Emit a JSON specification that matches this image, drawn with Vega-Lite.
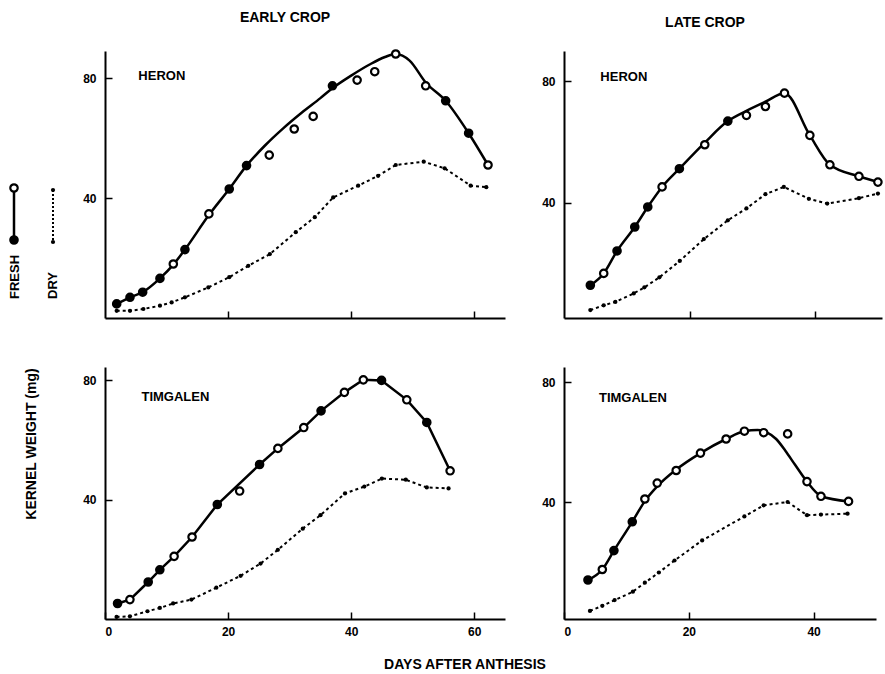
{
  "$schema": "https://vega.github.io/schema/vega-lite/v6.json",
  "padding": {"top": 10, "left": 0, "right": 0, "bottom": 0},
  "autosize": {"type": "pad"},
  "spacing": 12,
  "config": {
    "view": {"stroke": null},
    "font": "Liberation Sans",
    "axis": {"domainColor": "black", "domainWidth": 2, "tickColor": "black", "tickWidth": 1.5, "tickSize": -7, "labelFont": "Liberation Sans", "labelFontWeight": "bold", "labelFontSize": 12, "labelColor": "black", "grid": false, "title": null},
    "axisY": {"labelPadding": 16},
    "axisX": {"labelPadding": 14},
    "title": {"font": "Liberation Sans", "fontSize": 14, "fontWeight": "bold", "color": "black", "offset": 21}
  },
  "title": {"text": "DAYS AFTER ANTHESIS", "orient": "bottom", "anchor": "middle", "offset": 21, "dx": 22, "font": "Liberation Sans", "fontSize": 14, "fontWeight": "bold", "color": "black"},
  "datasets": {
    "pts": [
      {"panel": "TL", "series": "fresh", "day": 1.9, "weight": 4.7, "style": "filled"},
      {"panel": "TL", "series": "fresh", "day": 4.06, "weight": 6.9, "style": "filled"},
      {"panel": "TL", "series": "fresh", "day": 6.12, "weight": 8.6, "style": "filled"},
      {"panel": "TL", "series": "fresh", "day": 8.93, "weight": 13.2, "style": "filled"},
      {"panel": "TL", "series": "fresh", "day": 11.1, "weight": 18.0, "style": "open"},
      {"panel": "TL", "series": "fresh", "day": 12.99, "weight": 22.8, "style": "filled"},
      {"panel": "TL", "series": "fresh", "day": 16.88, "weight": 34.7, "style": "open"},
      {"panel": "TL", "series": "fresh", "day": 20.19, "weight": 43.0, "style": "filled"},
      {"panel": "TL", "series": "fresh", "day": 23.0, "weight": 50.8, "style": "filled"},
      {"panel": "TL", "series": "fresh", "day": 26.69, "weight": 54.3, "style": "open"},
      {"panel": "TL", "series": "fresh", "day": 30.75, "weight": 63.0, "style": "open"},
      {"panel": "TL", "series": "fresh", "day": 33.83, "weight": 67.2, "style": "open"},
      {"panel": "TL", "series": "fresh", "day": 36.96, "weight": 77.4, "style": "filled"},
      {"panel": "TL", "series": "fresh", "day": 40.97, "weight": 79.3, "style": "open"},
      {"panel": "TL", "series": "fresh", "day": 43.83, "weight": 82.1, "style": "open"},
      {"panel": "TL", "series": "fresh", "day": 47.24, "weight": 88.0, "style": "open"},
      {"panel": "TL", "series": "fresh", "day": 52.11, "weight": 77.4, "style": "open"},
      {"panel": "TL", "series": "fresh", "day": 55.36, "weight": 72.4, "style": "filled"},
      {"panel": "TL", "series": "fresh", "day": 59.09, "weight": 61.6, "style": "filled"},
      {"panel": "TL", "series": "fresh", "day": 62.24, "weight": 51.0, "style": "open"},
      {"panel": "TL", "series": "dry", "day": 1.9, "weight": 2.4, "style": "dot"},
      {"panel": "TL", "series": "dry", "day": 4.06, "weight": 2.4, "style": "dot"},
      {"panel": "TL", "series": "dry", "day": 6.23, "weight": 3.0, "style": "dot"},
      {"panel": "TL", "series": "dry", "day": 8.93, "weight": 4.1, "style": "dot"},
      {"panel": "TL", "series": "dry", "day": 10.83, "weight": 5.2, "style": "dot"},
      {"panel": "TL", "series": "dry", "day": 12.99, "weight": 6.9, "style": "dot"},
      {"panel": "TL", "series": "dry", "day": 16.79, "weight": 10.2, "style": "dot"},
      {"panel": "TL", "series": "dry", "day": 20.19, "weight": 13.6, "style": "dot"},
      {"panel": "TL", "series": "dry", "day": 23.28, "weight": 17.4, "style": "dot"},
      {"panel": "TL", "series": "dry", "day": 26.79, "weight": 21.3, "style": "dot"},
      {"panel": "TL", "series": "dry", "day": 31.0, "weight": 28.6, "style": "dot"},
      {"panel": "TL", "series": "dry", "day": 34.09, "weight": 33.6, "style": "dot"},
      {"panel": "TL", "series": "dry", "day": 37.08, "weight": 40.2, "style": "dot"},
      {"panel": "TL", "series": "dry", "day": 41.14, "weight": 44.1, "style": "dot"},
      {"panel": "TL", "series": "dry", "day": 44.38, "weight": 47.4, "style": "dot"},
      {"panel": "TL", "series": "dry", "day": 47.24, "weight": 51.0, "style": "dot"},
      {"panel": "TL", "series": "dry", "day": 51.79, "weight": 52.1, "style": "dot"},
      {"panel": "TL", "series": "dry", "day": 55.19, "weight": 49.9, "style": "dot"},
      {"panel": "TL", "series": "dry", "day": 59.42, "weight": 44.1, "style": "dot"},
      {"panel": "TL", "series": "dry", "day": 61.96, "weight": 43.6, "style": "dot"},

      {"panel": "TR", "series": "fresh", "day": 4.19, "weight": 12.8, "style": "filled"},
      {"panel": "TR", "series": "fresh", "day": 6.32, "weight": 16.7, "style": "open"},
      {"panel": "TR", "series": "fresh", "day": 8.44, "weight": 24.1, "style": "filled"},
      {"panel": "TR", "series": "fresh", "day": 11.26, "weight": 32.0, "style": "filled"},
      {"panel": "TR", "series": "fresh", "day": 13.33, "weight": 38.6, "style": "filled"},
      {"panel": "TR", "series": "fresh", "day": 15.61, "weight": 45.2, "style": "open"},
      {"panel": "TR", "series": "fresh", "day": 18.36, "weight": 51.2, "style": "filled"},
      {"panel": "TR", "series": "fresh", "day": 22.4, "weight": 59.1, "style": "open"},
      {"panel": "TR", "series": "fresh", "day": 26.07, "weight": 66.9, "style": "filled"},
      {"panel": "TR", "series": "fresh", "day": 29.03, "weight": 68.8, "style": "open"},
      {"panel": "TR", "series": "fresh", "day": 32.05, "weight": 71.7, "style": "open"},
      {"panel": "TR", "series": "fresh", "day": 35.08, "weight": 76.1, "style": "open"},
      {"panel": "TR", "series": "fresh", "day": 39.12, "weight": 62.2, "style": "open"},
      {"panel": "TR", "series": "fresh", "day": 42.31, "weight": 52.5, "style": "open"},
      {"panel": "TR", "series": "fresh", "day": 46.93, "weight": 48.7, "style": "open"},
      {"panel": "TR", "series": "fresh", "day": 49.95, "weight": 46.8, "style": "open"},
      {"panel": "TR", "series": "dry", "day": 4.19, "weight": 4.6, "style": "dot"},
      {"panel": "TR", "series": "dry", "day": 6.32, "weight": 6.2, "style": "dot"},
      {"panel": "TR", "series": "dry", "day": 8.17, "weight": 7.3, "style": "dot"},
      {"panel": "TR", "series": "dry", "day": 11.1, "weight": 10.1, "style": "dot"},
      {"panel": "TR", "series": "dry", "day": 12.79, "weight": 12.1, "style": "dot"},
      {"panel": "TR", "series": "dry", "day": 15.18, "weight": 15.4, "style": "dot"},
      {"panel": "TR", "series": "dry", "day": 18.42, "weight": 20.8, "style": "dot"},
      {"panel": "TR", "series": "dry", "day": 22.25, "weight": 28.0, "style": "dot"},
      {"panel": "TR", "series": "dry", "day": 26.07, "weight": 34.2, "style": "dot"},
      {"panel": "TR", "series": "dry", "day": 29.03, "weight": 38.1, "style": "dot"},
      {"panel": "TR", "series": "dry", "day": 32.05, "weight": 42.8, "style": "dot"},
      {"panel": "TR", "series": "dry", "day": 34.98, "weight": 45.2, "style": "dot"},
      {"panel": "TR", "series": "dry", "day": 38.96, "weight": 41.3, "style": "dot"},
      {"panel": "TR", "series": "dry", "day": 41.88, "weight": 39.7, "style": "dot"},
      {"panel": "TR", "series": "dry", "day": 46.93, "weight": 41.5, "style": "dot"},
      {"panel": "TR", "series": "dry", "day": 49.95, "weight": 43.0, "style": "dot"},

      {"panel": "BL", "series": "fresh", "day": 2.04, "weight": 5.2, "style": "filled"},
      {"panel": "BL", "series": "fresh", "day": 4.05, "weight": 6.5, "style": "open"},
      {"panel": "BL", "series": "fresh", "day": 7.02, "weight": 12.4, "style": "filled"},
      {"panel": "BL", "series": "fresh", "day": 8.91, "weight": 16.5, "style": "filled"},
      {"panel": "BL", "series": "fresh", "day": 11.23, "weight": 21.0, "style": "open"},
      {"panel": "BL", "series": "fresh", "day": 14.15, "weight": 27.5, "style": "open"},
      {"panel": "BL", "series": "fresh", "day": 18.25, "weight": 38.4, "style": "filled"},
      {"panel": "BL", "series": "fresh", "day": 21.88, "weight": 42.9, "style": "open"},
      {"panel": "BL", "series": "fresh", "day": 25.12, "weight": 51.8, "style": "filled"},
      {"panel": "BL", "series": "fresh", "day": 28.09, "weight": 57.2, "style": "open"},
      {"panel": "BL", "series": "fresh", "day": 32.3, "weight": 64.2, "style": "open"},
      {"panel": "BL", "series": "fresh", "day": 35.11, "weight": 69.8, "style": "filled"},
      {"panel": "BL", "series": "fresh", "day": 38.9, "weight": 76.0, "style": "open"},
      {"panel": "BL", "series": "fresh", "day": 41.98, "weight": 80.2, "style": "open"},
      {"panel": "BL", "series": "fresh", "day": 44.94, "weight": 80.0, "style": "filled"},
      {"panel": "BL", "series": "fresh", "day": 49.04, "weight": 73.5, "style": "open"},
      {"panel": "BL", "series": "fresh", "day": 52.29, "weight": 65.9, "style": "filled"},
      {"panel": "BL", "series": "fresh", "day": 56.08, "weight": 49.7, "style": "open"},
      {"panel": "BL", "series": "dry", "day": 1.88, "weight": 0.7, "style": "dot"},
      {"panel": "BL", "series": "dry", "day": 4.05, "weight": 0.9, "style": "dot"},
      {"panel": "BL", "series": "dry", "day": 6.9, "weight": 2.6, "style": "dot"},
      {"panel": "BL", "series": "dry", "day": 8.91, "weight": 3.7, "style": "dot"},
      {"panel": "BL", "series": "dry", "day": 11.07, "weight": 5.2, "style": "dot"},
      {"panel": "BL", "series": "dry", "day": 14.04, "weight": 6.5, "style": "dot"},
      {"panel": "BL", "series": "dry", "day": 18.09, "weight": 10.5, "style": "dot"},
      {"panel": "BL", "series": "dry", "day": 22.04, "weight": 14.5, "style": "dot"},
      {"panel": "BL", "series": "dry", "day": 25.28, "weight": 18.6, "style": "dot"},
      {"panel": "BL", "series": "dry", "day": 28.09, "weight": 23.2, "style": "dot"},
      {"panel": "BL", "series": "dry", "day": 32.14, "weight": 30.3, "style": "dot"},
      {"panel": "BL", "series": "dry", "day": 35.01, "weight": 34.8, "style": "dot"},
      {"panel": "BL", "series": "dry", "day": 39.0, "weight": 42.1, "style": "dot"},
      {"panel": "BL", "series": "dry", "day": 42.14, "weight": 44.4, "style": "dot"},
      {"panel": "BL", "series": "dry", "day": 44.99, "weight": 47.1, "style": "dot"},
      {"panel": "BL", "series": "dry", "day": 48.88, "weight": 46.7, "style": "dot"},
      {"panel": "BL", "series": "dry", "day": 52.29, "weight": 44.1, "style": "dot"},
      {"panel": "BL", "series": "dry", "day": 55.83, "weight": 43.8, "style": "dot"},

      {"panel": "BR", "series": "fresh", "day": 3.84, "weight": 14.0, "style": "filled"},
      {"panel": "BR", "series": "fresh", "day": 6.14, "weight": 17.5, "style": "open"},
      {"panel": "BR", "series": "fresh", "day": 8.0, "weight": 23.8, "style": "filled"},
      {"panel": "BR", "series": "fresh", "day": 10.94, "weight": 33.4, "style": "filled"},
      {"panel": "BR", "series": "fresh", "day": 12.96, "weight": 41.0, "style": "open"},
      {"panel": "BR", "series": "fresh", "day": 14.94, "weight": 46.3, "style": "open"},
      {"panel": "BR", "series": "fresh", "day": 17.98, "weight": 50.5, "style": "open"},
      {"panel": "BR", "series": "fresh", "day": 21.87, "weight": 56.3, "style": "open"},
      {"panel": "BR", "series": "fresh", "day": 25.98, "weight": 61.0, "style": "open"},
      {"panel": "BR", "series": "fresh", "day": 28.91, "weight": 63.6, "style": "open"},
      {"panel": "BR", "series": "fresh", "day": 32.0, "weight": 63.1, "style": "open"},
      {"panel": "BR", "series": "fresh", "day": 35.84, "weight": 62.7, "style": "open"},
      {"panel": "BR", "series": "fresh", "day": 38.94, "weight": 46.8, "style": "open"},
      {"panel": "BR", "series": "fresh", "day": 41.18, "weight": 41.9, "style": "open"},
      {"panel": "BR", "series": "fresh", "day": 45.6, "weight": 40.2, "style": "open"},
      {"panel": "BR", "series": "dry", "day": 4.16, "weight": 3.7, "style": "dot"},
      {"panel": "BR", "series": "dry", "day": 6.14, "weight": 5.4, "style": "dot"},
      {"panel": "BR", "series": "dry", "day": 8.11, "weight": 7.3, "style": "dot"},
      {"panel": "BR", "series": "dry", "day": 11.04, "weight": 10.1, "style": "dot"},
      {"panel": "BR", "series": "dry", "day": 12.96, "weight": 13.1, "style": "dot"},
      {"panel": "BR", "series": "dry", "day": 15.2, "weight": 16.5, "style": "dot"},
      {"panel": "BR", "series": "dry", "day": 17.71, "weight": 20.5, "style": "dot"},
      {"panel": "BR", "series": "dry", "day": 22.14, "weight": 27.2, "style": "dot"},
      {"panel": "BR", "series": "dry", "day": 28.91, "weight": 35.2, "style": "dot"},
      {"panel": "BR", "series": "dry", "day": 32.0, "weight": 38.9, "style": "dot"},
      {"panel": "BR", "series": "dry", "day": 35.84, "weight": 40.0, "style": "dot"},
      {"panel": "BR", "series": "dry", "day": 38.94, "weight": 35.6, "style": "dot"},
      {"panel": "BR", "series": "dry", "day": 41.18, "weight": 35.8, "style": "dot"},
      {"panel": "BR", "series": "dry", "day": 45.44, "weight": 36.1, "style": "dot"}
    ],
    "curve": [
      {"panel": "TL", "day": 1.9, "weight": 4.7}, {"panel": "TL", "day": 4.06, "weight": 6.9}, {"panel": "TL", "day": 6.12, "weight": 8.6},
      {"panel": "TL", "day": 8.93, "weight": 13.2}, {"panel": "TL", "day": 11.1, "weight": 17.8}, {"panel": "TL", "day": 12.99, "weight": 22.8},
      {"panel": "TL", "day": 16.88, "weight": 34.3}, {"panel": "TL", "day": 20.19, "weight": 43.0}, {"panel": "TL", "day": 23.0, "weight": 50.8},
      {"panel": "TL", "day": 26.0, "weight": 57.5}, {"panel": "TL", "day": 29.0, "weight": 63.3}, {"panel": "TL", "day": 32.0, "weight": 68.5},
      {"panel": "TL", "day": 35.0, "weight": 73.3}, {"panel": "TL", "day": 36.96, "weight": 76.6}, {"panel": "TL", "day": 40.0, "weight": 80.8},
      {"panel": "TL", "day": 43.0, "weight": 84.5}, {"panel": "TL", "day": 45.5, "weight": 87.0}, {"panel": "TL", "day": 47.24, "weight": 88.0},
      {"panel": "TL", "day": 49.5, "weight": 85.8}, {"panel": "TL", "day": 52.11, "weight": 78.5}, {"panel": "TL", "day": 55.36, "weight": 72.4},
      {"panel": "TL", "day": 59.09, "weight": 61.6}, {"panel": "TL", "day": 62.24, "weight": 51.0},

      {"panel": "TR", "day": 4.19, "weight": 12.8}, {"panel": "TR", "day": 6.32, "weight": 16.7}, {"panel": "TR", "day": 8.44, "weight": 24.1},
      {"panel": "TR", "day": 11.26, "weight": 32.0}, {"panel": "TR", "day": 13.33, "weight": 38.6}, {"panel": "TR", "day": 15.61, "weight": 45.2},
      {"panel": "TR", "day": 18.36, "weight": 51.2}, {"panel": "TR", "day": 22.4, "weight": 59.8}, {"panel": "TR", "day": 26.07, "weight": 66.9},
      {"panel": "TR", "day": 29.03, "weight": 70.3}, {"panel": "TR", "day": 32.05, "weight": 73.3}, {"panel": "TR", "day": 35.08, "weight": 76.1},
      {"panel": "TR", "day": 39.12, "weight": 62.2}, {"panel": "TR", "day": 42.31, "weight": 52.5}, {"panel": "TR", "day": 46.93, "weight": 48.7},
      {"panel": "TR", "day": 49.95, "weight": 46.8},

      {"panel": "BL", "day": 2.04, "weight": 5.2}, {"panel": "BL", "day": 4.05, "weight": 6.5}, {"panel": "BL", "day": 7.02, "weight": 12.4},
      {"panel": "BL", "day": 8.91, "weight": 16.5}, {"panel": "BL", "day": 11.23, "weight": 21.0}, {"panel": "BL", "day": 14.15, "weight": 27.5},
      {"panel": "BL", "day": 18.25, "weight": 38.4}, {"panel": "BL", "day": 25.12, "weight": 51.8}, {"panel": "BL", "day": 28.09, "weight": 57.2},
      {"panel": "BL", "day": 32.3, "weight": 64.2}, {"panel": "BL", "day": 35.11, "weight": 69.8}, {"panel": "BL", "day": 38.9, "weight": 76.0},
      {"panel": "BL", "day": 41.98, "weight": 80.2}, {"panel": "BL", "day": 44.94, "weight": 80.0}, {"panel": "BL", "day": 49.04, "weight": 73.5},
      {"panel": "BL", "day": 52.29, "weight": 65.9}, {"panel": "BL", "day": 56.08, "weight": 49.7},

      {"panel": "BR", "day": 3.84, "weight": 14.0}, {"panel": "BR", "day": 6.14, "weight": 17.5}, {"panel": "BR", "day": 8.0, "weight": 23.8},
      {"panel": "BR", "day": 10.94, "weight": 33.4}, {"panel": "BR", "day": 12.96, "weight": 40.3}, {"panel": "BR", "day": 14.94, "weight": 45.2},
      {"panel": "BR", "day": 17.98, "weight": 50.8}, {"panel": "BR", "day": 21.87, "weight": 56.3}, {"panel": "BR", "day": 25.98, "weight": 61.0},
      {"panel": "BR", "day": 28.91, "weight": 63.6}, {"panel": "BR", "day": 31.0, "weight": 64.0}, {"panel": "BR", "day": 32.5, "weight": 63.2},
      {"panel": "BR", "day": 34.0, "weight": 61.0}, {"panel": "BR", "day": 35.5, "weight": 57.0}, {"panel": "BR", "day": 37.0, "weight": 52.5},
      {"panel": "BR", "day": 38.94, "weight": 46.8}, {"panel": "BR", "day": 41.18, "weight": 42.0}, {"panel": "BR", "day": 45.6, "weight": 40.2}
    ],
    "labels": [
      {"panel": "TL", "day": 5.42, "weight": 79.4, "name": "HERON"},
      {"panel": "TR", "day": 5.78, "weight": 80.0, "name": "HERON"},
      {"panel": "BL", "day": 5.93, "weight": 73.0, "name": "TIMGALEN"},
      {"panel": "BR", "day": 5.6, "weight": 73.4, "name": "TIMGALEN"}
    ],
    "legendGlyph": [
      {"item": "fresh", "x": 14, "y": 137, "style": "open"},
      {"item": "fresh", "x": 14, "y": 189, "style": "filled"},
      {"item": "dry", "x": 53, "y": 139, "style": "dot"},
      {"item": "dry", "x": 53, "y": 191, "style": "dot"}
    ],
    "legendText": [
      {"label": "FRESH", "x": 15, "y": 248},
      {"label": "DRY", "x": 53, "y": 248}
    ],
    "axisTitle": [
      {"label": "KERNEL WEIGHT (mg)", "x": 32, "y": 393}
    ]
  },
  "hconcat": [
    {
      "width": 70, "height": 568,
      "layer": [
        {"data": {"name": "legendGlyph"}, "transform": [{"filter": "datum.item === 'fresh'"}],
         "mark": {"type": "line", "color": "black", "strokeWidth": 2.5},
         "encoding": {"x": {"field": "x", "type": "quantitative", "scale": {"domain": [0, 70], "nice": false, "zero": false}, "axis": null},
                      "y": {"field": "y", "type": "quantitative", "scale": {"domain": [0, 568], "nice": false, "zero": false, "reverse": true}, "axis": null}}},
        {"data": {"name": "legendGlyph"}, "transform": [{"filter": "datum.item === 'dry'"}],
         "mark": {"type": "line", "color": "black", "strokeWidth": 2, "strokeDash": [2, 2]},
         "encoding": {"x": {"field": "x", "type": "quantitative"}, "y": {"field": "y", "type": "quantitative"}}},
        {"data": {"name": "legendGlyph"}, "transform": [{"filter": "datum.item === 'dry'"}],
         "mark": {"type": "circle", "color": "black", "size": 18, "opacity": 1},
         "encoding": {"x": {"field": "x", "type": "quantitative"}, "y": {"field": "y", "type": "quantitative"}}},
        {"data": {"name": "legendGlyph"}, "transform": [{"filter": "datum.item === 'fresh'"}],
         "mark": {"type": "point", "shape": "circle", "filled": true, "stroke": "black", "strokeWidth": 2.2, "size": 55, "opacity": 1},
         "encoding": {"x": {"field": "x", "type": "quantitative"}, "y": {"field": "y", "type": "quantitative"},
                      "fill": {"field": "style", "type": "nominal", "scale": {"domain": ["open", "filled"], "range": ["white", "black"]}, "legend": null}}},
        {"data": {"name": "legendText"},
         "mark": {"type": "text", "angle": 270, "align": "left", "baseline": "middle", "fontSize": 13, "fontWeight": "bold", "font": "Liberation Sans", "color": "black"},
         "encoding": {"x": {"field": "x", "type": "quantitative"}, "y": {"field": "y", "type": "quantitative"}, "text": {"field": "label"}}},
        {"data": {"name": "axisTitle"},
         "mark": {"type": "text", "angle": 270, "align": "center", "baseline": "middle", "fontSize": 14, "fontWeight": "bold", "font": "Liberation Sans", "color": "black"},
         "encoding": {"x": {"field": "x", "type": "quantitative"}, "y": {"field": "y", "type": "quantitative"}, "text": {"field": "label"}}}
      ]
    },
    {
      "columns": 2,
      "bounds": "flush",
      "spacing": {"row": 49, "column": 59},
      "concat": [
        {
          "width": 400, "height": 267,
          "title": {"text": "EARLY CROP", "dx": -20},
          "layer": [
            {"data": {"name": "curve"}, "transform": [{"filter": "datum.panel === 'TL'"}],
             "mark": {"type": "line", "interpolate": "monotone", "color": "black", "strokeWidth": 2.5},
             "encoding": {"x": {"field": "day", "type": "quantitative", "scale": {"domain": [0, 65], "nice": false, "zero": false}, "axis": {"values": [20, 40, 60], "labels": false}},
                          "y": {"field": "weight", "type": "quantitative", "scale": {"domain": [0, 89], "nice": false, "zero": false}, "axis": {"values": [40, 80]}}}},
            {"data": {"name": "pts"}, "transform": [{"filter": "datum.panel === 'TL' && datum.series === 'dry'"}],
             "mark": {"type": "line", "color": "black", "strokeWidth": 2, "strokeDash": [3, 3]},
             "encoding": {"x": {"field": "day", "type": "quantitative"}, "y": {"field": "weight", "type": "quantitative"}}},
            {"data": {"name": "pts"}, "transform": [{"filter": "datum.panel === 'TL' && datum.series === 'dry'"}],
             "mark": {"type": "circle", "color": "black", "size": 18, "opacity": 1},
             "encoding": {"x": {"field": "day", "type": "quantitative"}, "y": {"field": "weight", "type": "quantitative"}}},
            {"data": {"name": "pts"}, "transform": [{"filter": "datum.panel === 'TL' && datum.series === 'fresh'"}],
             "mark": {"type": "point", "shape": "circle", "filled": true, "stroke": "black", "strokeWidth": 2.2, "size": 55, "opacity": 1},
             "encoding": {"x": {"field": "day", "type": "quantitative"}, "y": {"field": "weight", "type": "quantitative"},
                          "fill": {"field": "style", "type": "nominal", "scale": {"domain": ["open", "filled"], "range": ["transparent", "black"]}, "legend": null}}},
            {"data": {"name": "labels"}, "transform": [{"filter": "datum.panel === 'TL'"}],
             "mark": {"type": "text", "align": "left", "baseline": "alphabetic", "fontSize": 13, "fontWeight": "bold", "font": "Liberation Sans", "color": "black"},
             "encoding": {"x": {"field": "day", "type": "quantitative"}, "y": {"field": "weight", "type": "quantitative"}, "text": {"field": "name"}}}
          ]
        },
        {
          "width": 318, "height": 267,
          "title": {"text": "LATE CROP", "dx": -18},
          "layer": [
            {"data": {"name": "curve"}, "transform": [{"filter": "datum.panel === 'TR'"}],
             "mark": {"type": "line", "interpolate": "monotone", "color": "black", "strokeWidth": 2.5},
             "encoding": {"x": {"field": "day", "type": "quantitative", "scale": {"domain": [0, 50.6], "nice": false, "zero": false}, "axis": {"values": [20, 40], "labels": false}},
                          "y": {"field": "weight", "type": "quantitative", "scale": {"domain": [2, 90], "nice": false, "zero": false}, "axis": {"values": [40, 80]}}}},
            {"data": {"name": "pts"}, "transform": [{"filter": "datum.panel === 'TR' && datum.series === 'dry'"}],
             "mark": {"type": "line", "color": "black", "strokeWidth": 2, "strokeDash": [3, 3]},
             "encoding": {"x": {"field": "day", "type": "quantitative"}, "y": {"field": "weight", "type": "quantitative"}}},
            {"data": {"name": "pts"}, "transform": [{"filter": "datum.panel === 'TR' && datum.series === 'dry'"}],
             "mark": {"type": "circle", "color": "black", "size": 18, "opacity": 1},
             "encoding": {"x": {"field": "day", "type": "quantitative"}, "y": {"field": "weight", "type": "quantitative"}}},
            {"data": {"name": "pts"}, "transform": [{"filter": "datum.panel === 'TR' && datum.series === 'fresh'"}],
             "mark": {"type": "point", "shape": "circle", "filled": true, "stroke": "black", "strokeWidth": 2.2, "size": 55, "opacity": 1},
             "encoding": {"x": {"field": "day", "type": "quantitative"}, "y": {"field": "weight", "type": "quantitative"},
                          "fill": {"field": "style", "type": "nominal", "scale": {"domain": ["open", "filled"], "range": ["transparent", "black"]}, "legend": null}}},
            {"data": {"name": "labels"}, "transform": [{"filter": "datum.panel === 'TR'"}],
             "mark": {"type": "text", "align": "left", "baseline": "alphabetic", "fontSize": 13, "fontWeight": "bold", "font": "Liberation Sans", "color": "black"},
             "encoding": {"x": {"field": "day", "type": "quantitative"}, "y": {"field": "weight", "type": "quantitative"}, "text": {"field": "name"}}}
          ]
        },
        {
          "width": 400, "height": 252,
          "layer": [
            {"data": {"name": "curve"}, "transform": [{"filter": "datum.panel === 'BL'"}],
             "mark": {"type": "line", "color": "black", "strokeWidth": 2.5},
             "encoding": {"x": {"field": "day", "type": "quantitative", "scale": {"domain": [0, 65], "nice": false, "zero": false}, "axis": {"values": [0, 20, 40, 60]}},
                          "y": {"field": "weight", "type": "quantitative", "scale": {"domain": [0, 84.5], "nice": false, "zero": false}, "axis": {"values": [40, 80]}}}},
            {"data": {"name": "pts"}, "transform": [{"filter": "datum.panel === 'BL' && datum.series === 'dry'"}],
             "mark": {"type": "line", "color": "black", "strokeWidth": 2, "strokeDash": [3, 3]},
             "encoding": {"x": {"field": "day", "type": "quantitative"}, "y": {"field": "weight", "type": "quantitative"}}},
            {"data": {"name": "pts"}, "transform": [{"filter": "datum.panel === 'BL' && datum.series === 'dry'"}],
             "mark": {"type": "circle", "color": "black", "size": 18, "opacity": 1},
             "encoding": {"x": {"field": "day", "type": "quantitative"}, "y": {"field": "weight", "type": "quantitative"}}},
            {"data": {"name": "pts"}, "transform": [{"filter": "datum.panel === 'BL' && datum.series === 'fresh'"}],
             "mark": {"type": "point", "shape": "circle", "filled": true, "stroke": "black", "strokeWidth": 2.2, "size": 55, "opacity": 1},
             "encoding": {"x": {"field": "day", "type": "quantitative"}, "y": {"field": "weight", "type": "quantitative"},
                          "fill": {"field": "style", "type": "nominal", "scale": {"domain": ["open", "filled"], "range": ["transparent", "black"]}, "legend": null}}},
            {"data": {"name": "labels"}, "transform": [{"filter": "datum.panel === 'BL'"}],
             "mark": {"type": "text", "align": "left", "baseline": "alphabetic", "fontSize": 13, "fontWeight": "bold", "font": "Liberation Sans", "color": "black"},
             "encoding": {"x": {"field": "day", "type": "quantitative"}, "y": {"field": "weight", "type": "quantitative"}, "text": {"field": "name"}}}
          ]
        },
        {
          "width": 312, "height": 252,
          "layer": [
            {"data": {"name": "curve"}, "transform": [{"filter": "datum.panel === 'BR'"}],
             "mark": {"type": "line", "interpolate": "monotone", "color": "black", "strokeWidth": 2.5},
             "encoding": {"x": {"field": "day", "type": "quantitative", "scale": {"domain": [0, 50], "nice": false, "zero": false}, "axis": {"values": [0, 20, 40]}},
                          "y": {"field": "weight", "type": "quantitative", "scale": {"domain": [1, 85], "nice": false, "zero": false}, "axis": {"values": [40, 80]}}}},
            {"data": {"name": "pts"}, "transform": [{"filter": "datum.panel === 'BR' && datum.series === 'dry'"}],
             "mark": {"type": "line", "color": "black", "strokeWidth": 2, "strokeDash": [3, 3]},
             "encoding": {"x": {"field": "day", "type": "quantitative"}, "y": {"field": "weight", "type": "quantitative"}}},
            {"data": {"name": "pts"}, "transform": [{"filter": "datum.panel === 'BR' && datum.series === 'dry'"}],
             "mark": {"type": "circle", "color": "black", "size": 18, "opacity": 1},
             "encoding": {"x": {"field": "day", "type": "quantitative"}, "y": {"field": "weight", "type": "quantitative"}}},
            {"data": {"name": "pts"}, "transform": [{"filter": "datum.panel === 'BR' && datum.series === 'fresh'"}],
             "mark": {"type": "point", "shape": "circle", "filled": true, "stroke": "black", "strokeWidth": 2.2, "size": 55, "opacity": 1},
             "encoding": {"x": {"field": "day", "type": "quantitative"}, "y": {"field": "weight", "type": "quantitative"},
                          "fill": {"field": "style", "type": "nominal", "scale": {"domain": ["open", "filled"], "range": ["transparent", "black"]}, "legend": null}}},
            {"data": {"name": "labels"}, "transform": [{"filter": "datum.panel === 'BR'"}],
             "mark": {"type": "text", "align": "left", "baseline": "alphabetic", "fontSize": 13, "fontWeight": "bold", "font": "Liberation Sans", "color": "black"},
             "encoding": {"x": {"field": "day", "type": "quantitative"}, "y": {"field": "weight", "type": "quantitative"}, "text": {"field": "name"}}}
          ]
        }
      ]
    }
  ]
}
